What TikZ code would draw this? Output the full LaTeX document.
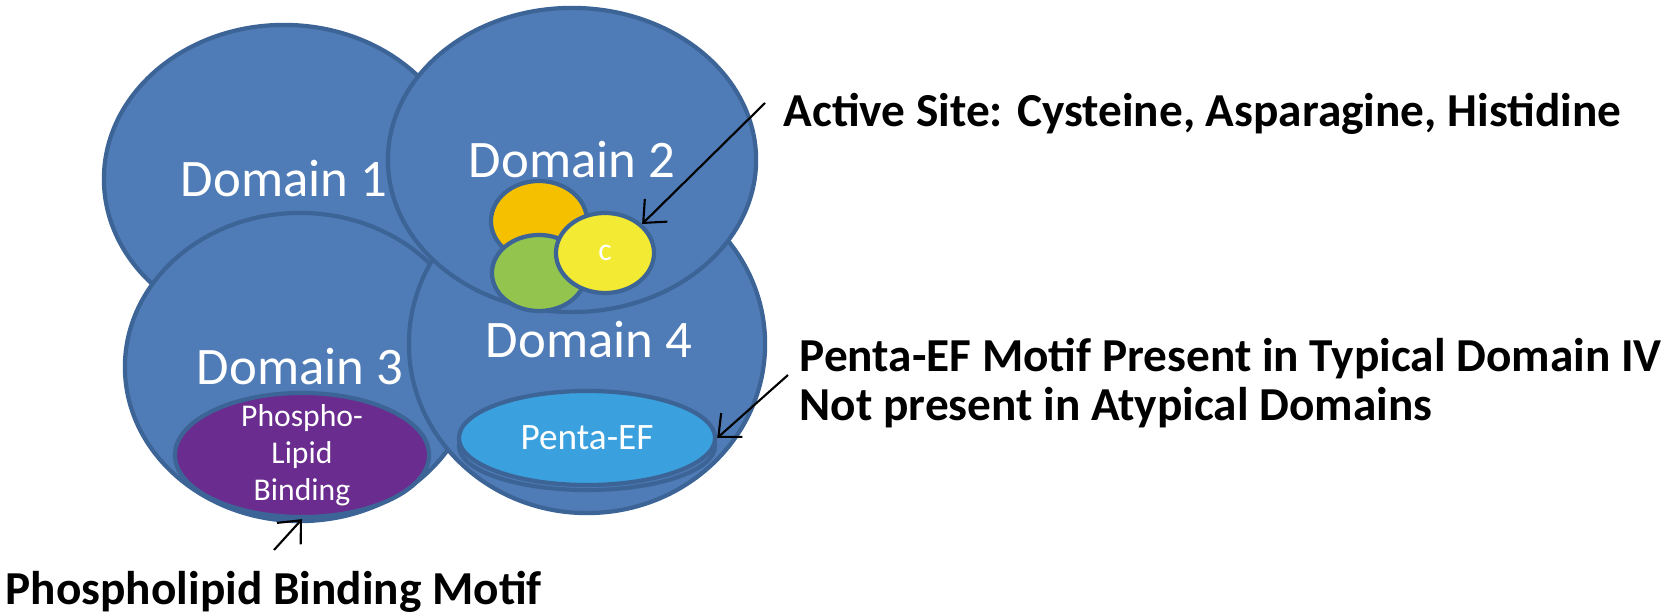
\documentclass[tikz,border=0pt]{standalone}
\usepackage{fontspec}
\setmainfont{Carlito}
\usetikzlibrary{shapes.geometric,arrows.meta}

\definecolor{domfill}{HTML}{4F7CB7}
\definecolor{domline}{HTML}{3D6496}
\definecolor{sitegold}{HTML}{F4C000}
\definecolor{sitegreen}{HTML}{92C44E}
\definecolor{siteyellow}{HTML}{F3EA33}
\definecolor{lipidpurple}{HTML}{6A2C8E}
\definecolor{efblue}{HTML}{3AA1DE}

\begin{document}
\begin{tikzpicture}[x=0.01cm, y=-0.01cm, >={Straight Barb[length=1.8mm, width=3.2mm]},
  dombox/.style={ellipse, draw=domline, fill=domfill, line width=1.2pt, inner sep=0pt, text=white, font=\fontsize{15}{16}\selectfont},
  motif/.style={ellipse, draw=domline, line width=1.2pt, inner sep=0pt, text=white, font=\fontsize{10.6}{12}\selectfont},
  site/.style={ellipse, draw=domline, line width=1.2pt, inner sep=0pt, text=white, font=\fontsize{9}{10}\selectfont},
  note/.style={anchor=base west, inner sep=0pt, font=\bfseries\fontsize{13.45}{15}\selectfont}]

  \useasboundingbox (0,0) rectangle (1667,616);

  % Domains
  \node[dombox, minimum width=3.6cm, minimum height=3.08cm] (D1) at (284,179) {Domain 1};
  \node[dombox, minimum width=3.5cm, minimum height=3.08cm] (D3) at (300,367) {Domain 3};
  \node[dombox, minimum width=3.56cm, minimum height=3.38cm] (D4) at (587,344) {};
  \node[text=white, font=\fontsize{15}{16}\selectfont] (D4txt) at (589,340) {Domain 4};
  \node[dombox, minimum width=2.56cm, minimum height=0.88cm] (D4b) at (587,446) {};
  \node[motif, fill=efblue, minimum width=2.56cm, minimum height=0.94cm] (EF) at (587,438) {Penta-EF};
  \node[dombox, minimum width=3.68cm, minimum height=3.04cm] (D2) at (572,160) {Domain 2};

  % Active site
  \node[site, fill=sitegold, minimum width=0.96cm, minimum height=0.8cm] (S1) at (539,221) {};
  \node[site, fill=sitegreen, minimum width=0.94cm, minimum height=0.76cm] (S2) at (539,273) {};
  \node[site, fill=siteyellow, minimum width=0.98cm, minimum height=0.8cm] (S3) at (605,253) {c};

  % Phospholipid binding
  \node[motif, fill=lipidpurple, minimum width=2.54cm, minimum height=1.24cm,
    label={[text=white, align=center, font=\fontsize{9}{10.5}\selectfont]center:Phospho-\\Lipid\\Binding}] (PL) at (302,455) {};

  % Notes
  \node[note] (T1) at (783,127) {Active Site: Cysteine, Asparagine, Histidine};
  \node[note] (T2) at (799,372) {Penta-EF Motif Present in Typical Domain IV};
  \node[note] (T3) at (799,421) {Not present in Atypical Domains};
  \node[note] (T4) at (5,604) {Phospholipid Binding Motif};

  % Pointers
  \coordinate (A1) at (765,103);
  \coordinate (A2) at (788,375);
  \coordinate (A3) at (274,550);
  \draw[->, line width=0.6pt] (A1) -- (S3.38);
  \draw[->, line width=0.6pt] (A2) -- (EF.east);
  \draw[->, line width=0.6pt] (A3) -- (PL.south);

\end{tikzpicture}
\end{document}
